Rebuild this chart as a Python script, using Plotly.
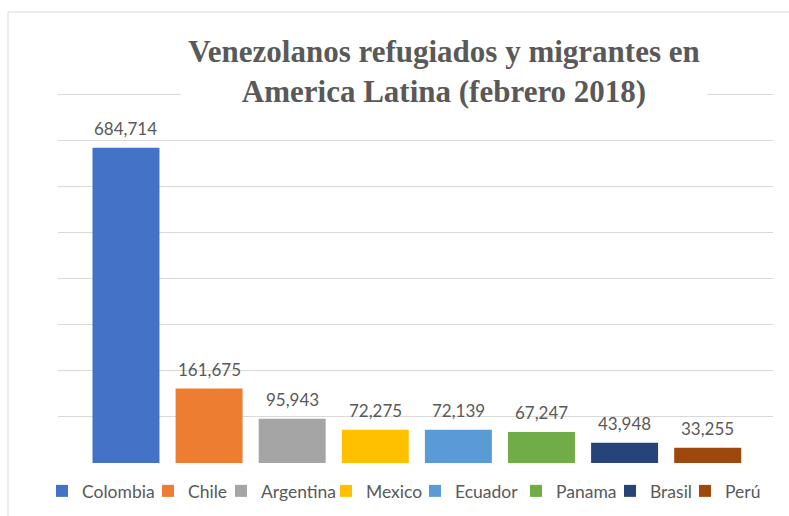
import plotly.graph_objects as go

countries = ["Colombia", "Chile", "Argentina", "Mexico", "Ecuador", "Panama", "Brasil", "Perú"]
values = [684714, 161675, 95943, 72275, 72139, 67247, 43948, 33255]
labels = ["684,714", "161,675", "95,943", "72,275", "72,139", "67,247", "43,948", "33,255"]
colors = ["#4472C4", "#ED7D31", "#A5A5A5", "#FFC000", "#5B9BD5", "#70AD47", "#264478", "#9E480E"]
legend_widths = [61, 28, 60, 44, 56, 49, 30, 42]

W, H = 789, 516
ML, MR, MT, MB = 58, 16, 92, 53
Y_MAX = 806000
plot_w = W - ML - MR
plot_h = H - MT - MB

def px_to_paper_x(px):
    return (px - ML) / plot_w

def px_to_paper_y(py):
    return (H - MB - py) / plot_h

text_gray = "#595959"
grid_gray = "#D9D9D9"

fig = go.Figure()
for c, v, col, lw in zip(countries, values, colors, legend_widths):
    fig.add_trace(go.Bar(
        x=[c], y=[v], name=c,
        marker=dict(color=col, line=dict(width=0)),
        width=0.806,
        legendwidth=lw,
        hoverinfo="x+y",
    ))

annotations = []
for c, v, t in zip(countries, values, labels):
    annotations.append(dict(
        x=c, y=v, xref="x", yref="y", text=t, showarrow=False,
        yanchor="bottom", xanchor="center", yshift=7,
        font=dict(family="Lato", size=17, color=text_gray),
    ))

annotations.append(dict(
    x=px_to_paper_x(444), y=px_to_paper_y(71), xref="paper", yref="paper",
    text="Venezolanos refugiados y migrantes en<br>America Latina (febrero 2018)",
    showarrow=False, xanchor="center", yanchor="middle",
    font=dict(family="Liberation Serif", size=31, color=text_gray, weight="bold"),
    bgcolor="white", width=524, align="center",
))

fig.update_layout(
    width=W, height=H,
    margin=dict(l=ML, r=MR, t=MT, b=MB, pad=0, autoexpand=False),
    paper_bgcolor="white", plot_bgcolor="white",
    barmode="overlay",
    showlegend=True,
    legend=dict(
        orientation="h", xref="paper", yref="paper",
        x=px_to_paper_x(42), xanchor="left", y=px_to_paper_y(509), yanchor="bottom",
        font=dict(family="Lato", size=17.5, color=text_gray),
        itemwidth=30, bgcolor="rgba(0,0,0,0)",
        traceorder="normal",
    ),
    xaxis=dict(
        categoryorder="array", categoryarray=countries,
        range=[-0.818, 7.786], showticklabels=False, showgrid=False,
        zeroline=False, showline=False, ticks="",
    ),
    yaxis=dict(
        range=[0, Y_MAX], dtick=100000, tick0=0,
        showticklabels=False, showgrid=True, gridcolor=grid_gray, gridwidth=1,
        zeroline=False, showline=False, ticks="",
    ),
    annotations=annotations,
    shapes=[dict(
        type="rect", xref="paper", yref="paper",
        x0=px_to_paper_x(8), x1=px_to_paper_x(800),
        y0=px_to_paper_y(530), y1=px_to_paper_y(12),
        line=dict(color=grid_gray, width=1), fillcolor="rgba(0,0,0,0)", layer="below",
    )],
)

fig.write_html(
    "out.html",
    config={"displayModeBar": False},
    post_script="document.body.style.margin='0px';",
)
